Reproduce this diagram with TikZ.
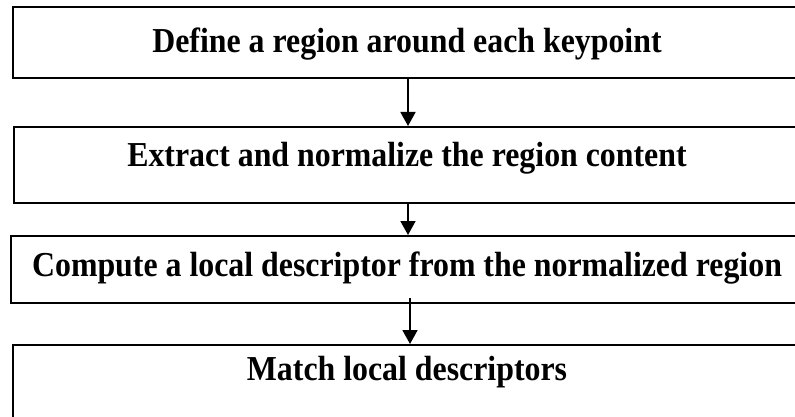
\documentclass[tikz,border=0pt]{standalone}
\usepackage{fontspec}
\setmainfont[FakeStretch=0.91]{Liberation Serif}
\usetikzlibrary{arrows.meta}
\begin{document}
\begin{tikzpicture}[x=1pt,y=-1pt,
  stepbox/.style={draw=black,line width=2pt,rectangle,inner sep=0pt,minimum width=788pt},
  steptext/.style={anchor=base,inner sep=0pt,font=\fontsize{35}{40}\selectfont\bfseries},
  flow/.style={draw=black,line width=1.8pt,-{Triangle[width=15pt,length=14pt]}}]
  \useasboundingbox (0,0) rectangle (795,417);
  \clip (0,0) rectangle (795,417);
  % boxes
  \node[stepbox,minimum height=71pt] (b1) at (407,42.5) {};
  \node[stepbox,minimum height=76pt] (b2) at (408,165) {};
  \node[stepbox,minimum height=67pt] (b3) at (405,269.5) {};
  \node[stepbox,minimum height=90pt] (b4) at (407,390) {};
  % labels
  \node[steptext] (t1) at (407,53) {Define a region around each keypoint};
  \node[steptext] (t2) at (407,167) {Extract and normalize the region content};
  \node[steptext] (t3) at (407,276) {Compute a local descriptor from the normalized region};
  \node[steptext] (t4) at (407,380) {Match local descriptors};
  % arrows
  \coordinate (ax1) at (408,0);
  \coordinate (ax2) at (408,0);
  \coordinate (ax3) at (410,0);
  \draw[flow] (b1.south -| ax1) -- (b2.north -| ax1);
  \draw[flow] (b2.south -| ax2) -- (b3.north -| ax2);
  \draw[flow] ([yshift=6pt]b3.south -| ax3) -- (b4.north -| ax3);
\end{tikzpicture}
\end{document}
